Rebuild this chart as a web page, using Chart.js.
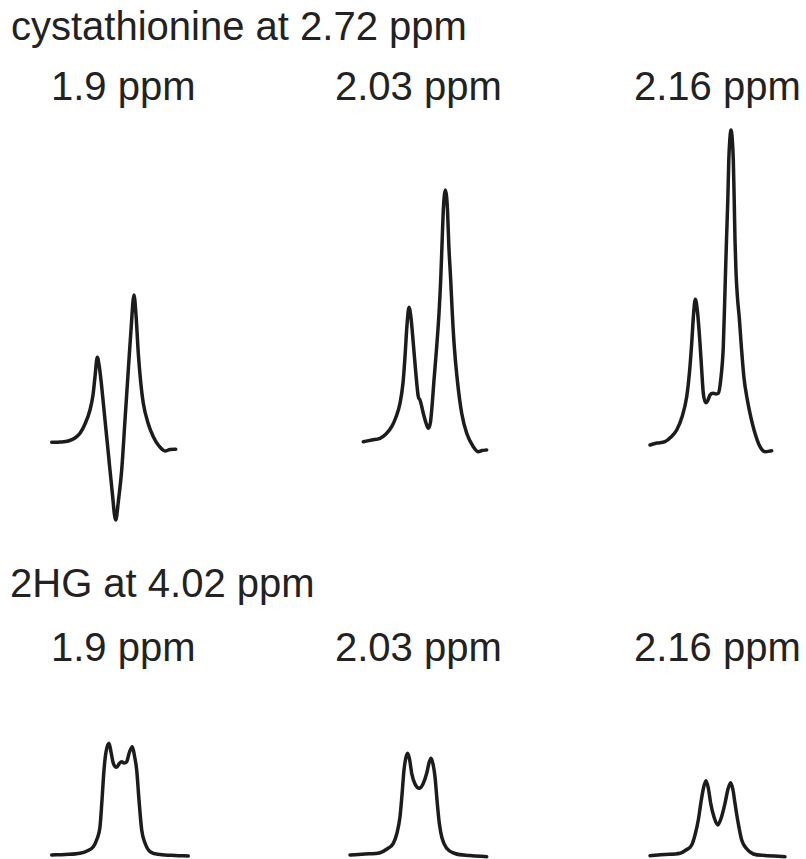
<!DOCTYPE html>
<html>
<head>
<meta charset="utf-8">
<script src="https://cdn.jsdelivr.net/npm/chart.js@4/dist/chart.umd.min.js"></script>
<style>
  html, body { margin: 0; padding: 0; background: #fff; }
  body { width: 806px; height: 859px; position: relative; overflow: hidden; font-family: "Liberation Sans", Arial, sans-serif; }
  .lbl { position: absolute; font-size: 40px; line-height: 40px; color: #222; white-space: nowrap; }
  canvas { position: absolute; }
</style>
</head>
<body>
<div class="lbl" style="left:11px; top:6px;">cystathionine at 2.72 ppm</div>
<div class="lbl" style="left:51px; top:66px;">1.9 ppm</div>
<div class="lbl" style="left:335px; top:66px;">2.03 ppm</div>
<div class="lbl" style="left:634px; top:66px;">2.16 ppm</div>
<div class="lbl" style="left:10px; top:563px;">2HG at 4.02 ppm</div>
<div class="lbl" style="left:51px; top:627px;">1.9 ppm</div>
<div class="lbl" style="left:335px; top:627px;">2.03 ppm</div>
<div class="lbl" style="left:634px; top:627px;">2.16 ppm</div>

<canvas id="c1"></canvas>
<canvas id="c2"></canvas>
<canvas id="c3"></canvas>
<canvas id="c4"></canvas>
<canvas id="c5"></canvas>
<canvas id="c6"></canvas>

<script>
// Panel titles
const groupTitles = ["cystathionine at 2.72 ppm", "2HG at 4.02 ppm"];
const panelLabels = ["1.9 ppm", "2.03 ppm", "2.16 ppm"];

// Spectra: x = relative frequency offset, y = relative intensity
const cys19X = [6.7,15,23.3,30,35,40,45,48,50,52.3,54.5,56.7,60,63.3,67,70.7,73.5,76.7,80,83.3,86,89,91,93.3,95.5,98.3,103,108.3,114,120,125,130.7];
const cys19Y = [7.7,8,9,12,16.7,26,40,55,73.3,92.7,82,63.3,30,-3,-40,-70,-50,-20,30,80,120,155,135,96.7,70,46.7,27,13.3,4,-1,0.5,0.7];

const cys203X = [8.3,17,25,31,36.7,41,45,48,50,52,54,56,58.3,61,63.3,65,68.3,71,73.3,75.5,77.3,79,81.7,84,85.7,87,88.3,89.3,90.3,91.5,92.5,93.8,95.7,97.3,99.3,102.3,106.7,111.7,118.3,123.3,127,131.7];
const cys203Y = [8.3,10,11.7,16,23.3,33,46.7,67,93.3,125,142.7,132,106.7,75,53.3,50,36.7,27,21.7,28,47,70,103.3,136.7,170,205,240,254,260,254,240,205,170,136.7,103.3,70,36.7,16.7,3.3,-1.7,-0.5,0];

const cys216X = [5,12,20,26,31.7,37,41.7,44.5,46.7,48.5,50.3,52.5,55,56.7,58.3,61,63,65,68.3,71,73.3,75.7,78.3,80.3,81.5,82.8,83.8,84.8,86,87.3,88.3,89.2,90,91,92.5,94.3,96.3,99,102,105,110,115,120,126.7];
const cys216Y = [5,7,8.3,13,20,33,53.3,78,106.7,135,150.7,138,106.7,80,56.7,47.3,50,55,56.7,56,56.7,70,103.3,170,210,250,290,310,320,310,290,250,210,178,152,132,104,72,52,36.7,16.7,3.3,-1.7,-0.7];

const hg19X = [6.7,20,35,42,48.3,52,55,57,59,61,64,66,68.3,71.7,74,76.7,79,81.7,84.5,87.3,89.5,91.7,94,96.7,100,105,115,130,143.3];
const hg19Y = [1,1.5,2.7,5,9.3,17,29.3,56,86,104,112.7,104,92.7,88.7,92,94.3,93,94.3,104,109.3,100,86,56,26,13,4.3,1.5,0.5,0];

const hg203X = [5,20,35,42,48.3,52,55,57,59,60.8,62.7,64.7,66.7,70,74.3,78,81.7,84,86,88,90,92,94.3,97,101.7,110,125,141.7];
const hg203Y = [1,2,3.3,7,12.7,23,39.3,61,86,98,102.7,96,82.7,72,67.7,72,82.7,93,97.7,92,79.3,56,32.7,18,7.7,2.5,0.5,-0.7];

const hg216X = [5,20,35,41,46.7,50,53.3,56,58.5,61,63.3,65.7,69,72.7,76.5,80,83,85.7,88,90,93,96.7,101,108.3,120,140];
const hg216Y = [0.3,1.5,2.7,6,11,21,36,54,68,75.3,68,52.7,39,31,39,52.7,67,73.3,66,52.7,34,16,8,2,0.5,-0.7];

const LINE_COLOR = "#1c1c1c";

function pts(xs, ys) { return xs.map((x, i) => ({ x: x, y: ys[i] })); }

function makePanel(id, xs, ys, box, yRange) {
  const cv = document.getElementById(id);
  cv.width = box.w; cv.height = box.h;
  cv.style.left = box.left + "px"; cv.style.top = box.top + "px";
  cv.style.width = box.w + "px"; cv.style.height = box.h + "px";
  new Chart(cv, {
    type: "line",
    data: { datasets: [{ data: pts(xs, ys), borderColor: LINE_COLOR, borderWidth: 3.5,
      pointRadius: 0, fill: false, cubicInterpolationMode: "monotone", borderJoinStyle: "round", borderCapStyle: "round" }] },
    options: {
      responsive: false, animation: false, maintainAspectRatio: false,
      layout: { padding: 0 },
      plugins: { legend: { display: false }, tooltip: { enabled: false }, title: { display: false } },
      scales: {
        x: { type: "linear", display: false, min: 0, max: box.w },
        y: { type: "linear", display: false, min: yRange[0], max: yRange[1] }
      }
    }
  });
}

// top row: canvas 100..540, intensity 0 at y=450
const topRange = [-90, 350];
makePanel("c1", cys19X, cys19Y, { left: 45, top: 100, w: 140, h: 440 }, topRange);
makePanel("c2", cys203X, cys203Y, { left: 355, top: 100, w: 140, h: 440 }, topRange);
makePanel("c3", cys216X, cys216Y, { left: 645, top: 100, w: 140, h: 440 }, topRange);
// bottom row: canvas 680..859, intensity 0 at y=856
const botRange = [-3, 176];
makePanel("c4", hg19X, hg19Y, { left: 45, top: 680, w: 150, h: 179 }, botRange);
makePanel("c5", hg203X, hg203Y, { left: 345, top: 680, w: 150, h: 179 }, botRange);
makePanel("c6", hg216X, hg216Y, { left: 645, top: 680, w: 150, h: 179 }, botRange);
</script>
</body>
</html>
